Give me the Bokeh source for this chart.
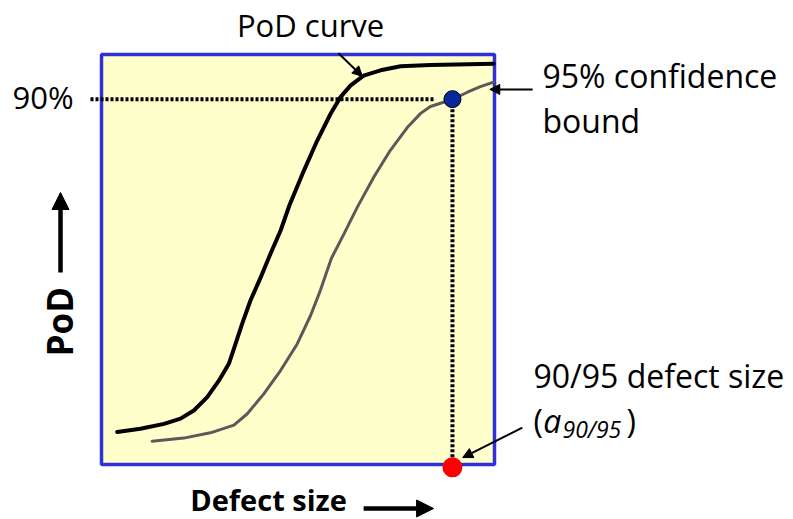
import math
from bokeh.plotting import figure
from bokeh.models import Range1d, Arrow, NormalHead
from bokeh.core.properties import value
from bokeh.embed import file_html
from bokeh.resources import INLINE

# ---- data (defect size in box units 0..100, PoD in %) ----
pod_x = [4.0, 9.9, 15.9, 20.1, 23.5, 26.9, 29.9, 32.4, 34.1, 35.8, 37.9, 40.5,
         43.0, 45.6, 47.8, 51.5, 54.9, 58.3, 60.8, 63.4, 66.7, 71.0, 76.1,
         83.7, 99.8]
pod_y = [8.0, 8.8, 10.0, 11.3, 13.3, 16.6, 20.7, 24.8, 29.7, 34.7, 40.4, 46.1,
         51.9, 57.7, 63.8, 72.4, 79.8, 86.4, 90.5, 93.4, 95.8, 97.1, 98.1,
         98.4, 98.7]
bound_x = [12.9, 20.9, 27.7, 33.7, 37.1, 41.3, 45.6, 49.8, 53.2, 55.7, 58.5,
           61.7, 65.1, 69.3, 73.5, 77.8, 81.2, 83.7, 89.2, 93.1, 96.4, 99.8]
bound_y = [5.7, 6.5, 7.8, 9.7, 12.5, 17.4, 23.2, 29.7, 36.7, 42.9, 50.8,
           56.8, 63.4, 70.8, 77.4, 83.0, 86.5, 88.2, 89.9, 91.7, 93.1, 94.2]
pod_level = 90          # 90 % PoD
a9095 = 89.3            # 90/95 defect size
box_x = [0, 100]
box_y = [0, 101]

FONT = "Open Sans"

p = figure(width=793, height=519, output_backend="svg", toolbar_location=None,
           x_axis_type=None, y_axis_type=None,
           x_range=Range1d(-25.70, 176.08), y_range=Range1d(-13.55, 114.30),
           min_border=0, min_border_left=0, min_border_right=0,
           min_border_top=0, min_border_bottom=0)
p.outline_line_color = None
p.grid.visible = False
p.background_fill_color = "white"
p.border_fill_color = "white"

# plot box
p.quad(left=box_x[0], right=box_x[1], bottom=box_y[0], top=box_y[1],
       fill_color="#ffffcc", line_color="#3030d8", line_width=3.5)

# dotted guide lines
p.line(x=[-2.8, 84.5], y=[pod_level, pod_level], line_color="black",
       line_width=4, line_dash="3 2")
p.line(x=[a9095, a9095], y=[pod_level, 0], line_color="black",
       line_width=4, line_dash="3 2")

# curves
p.line(x=bound_x, y=bound_y, line_color="#5a5a5a", line_width=3,
       line_join="round", line_cap="round")
p.line(x=pod_x, y=pod_y, line_color="black", line_width=4,
       line_join="round", line_cap="round")

# points
p.scatter(x=[a9095], y=[pod_level], size=17, fill_color="#06299e",
          line_color="black", line_width=1)
p.scatter(x=[a9095], y=[-0.7], size=20, fill_color="#ff0000", line_color=None)

# annotation arrows
def arrow(x0, y0, x1, y1, w, hs):
    p.add_layout(Arrow(x_start=x0, y_start=y0, x_end=x1, y_end=y1,
                       line_color="black", line_width=w,
                       end=NormalHead(size=hs, fill_color="black",
                                      line_color="black", line_width=1)))

arrow(60.3, 101.3, 66.4, 95.6, 2, 10)
arrow(109.7, 92.4, 98.8, 92.4, 2, 10)
arrow(107.1, 9.1, 91.9, 1.7, 2, 10)
arrow(-10.43, 47.3, -10.43, 67.0, 4.5, 17)
arrow(66.7, -10.84, 84.5, -10.84, 4.5, 17)

def txt(x, y, s, size, align="left", baseline="alphabetic", style="normal",
        angle=0.0):
    p.text(x=[x], y=[y], text=[s], text_font=value(FONT),
           text_font_size=f"{size}px", text_align=align,
           text_baseline=baseline, text_font_style=style, text_color="black",
           angle=angle)

DY = 2.96
txt(53.2, 105.2 + DY, "PoD curve", 31, align="center")
txt(-7.1, 87.5 + DY, "90%", 31, align="right")
txt(112.2, 92.9 + DY, "95% confidence", 32)
txt(112.2, 81.8 + DY, "bound", 32)
txt(109.9, 19.0 + DY, "90/95 defect size", 32)
txt(109.9, 7.9 + DY, "(", 32)
txt(112.4, 7.9 + DY, "a", 32, style="italic")
txt(117.3, 5.9 + DY, "90/95", 23, style="italic")
txt(133.6, 7.9 + DY, ")", 32)
txt(42.5, -11.6 + DY, "Defect size", 29, align="center", style="bold")
txt(-10.66, 35.2, "PoD", 35, align="center", style="bold", angle=math.pi / 2)

open("out.html", "w").write(file_html(p, INLINE))
